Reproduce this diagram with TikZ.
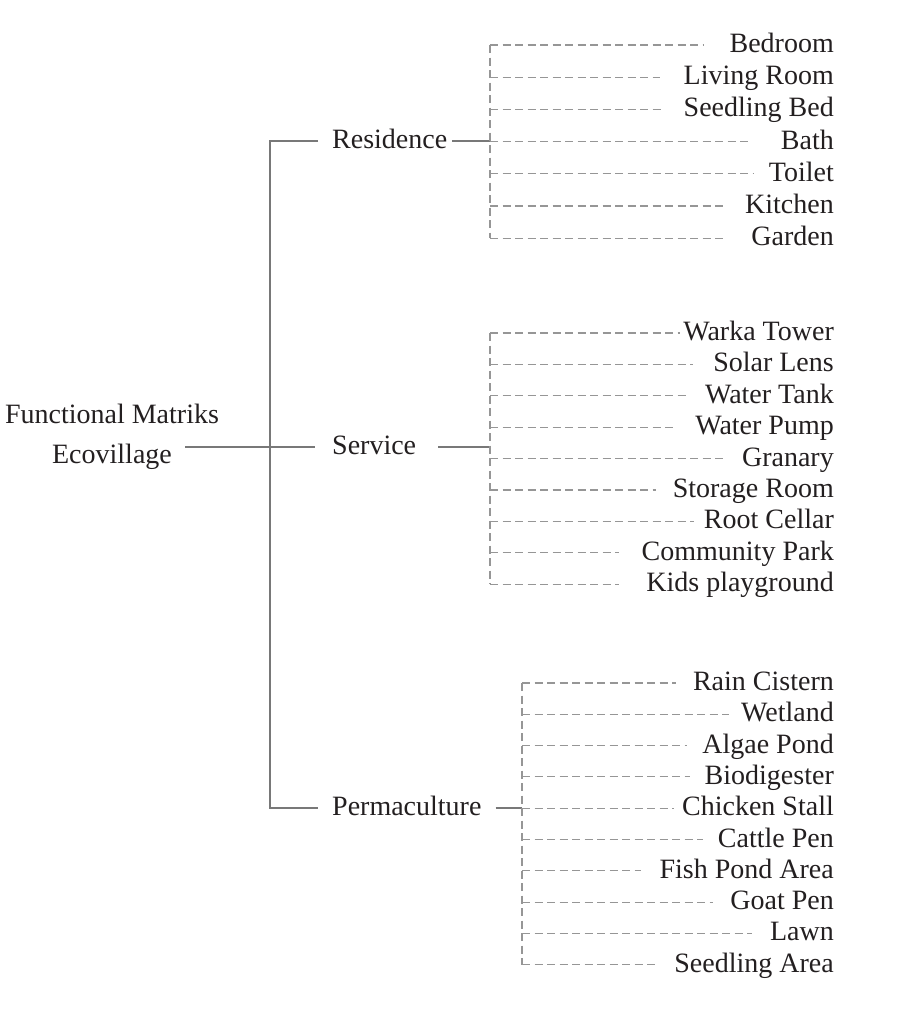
\documentclass[tikz,border=0pt]{standalone}
\usepackage{fontspec}
\setmainfont{Liberation Serif}
\definecolor{ink}{RGB}{35,31,32}
\definecolor{wire}{RGB}{120,120,120}
\definecolor{dashgray}{RGB}{150,150,150}
\tikzset{
  lbl/.style={inner sep=0pt, text height=19pt, text depth=4pt, text=ink,
    font=\fontsize{28}{34}\selectfont},
  leaf/.style={lbl, anchor=east},
  trunk/.style={draw=wire, line width=1.2pt},
  twig/.style={draw=dashgray, line width=1.1pt, dash pattern=on 8pt off 4.5pt},
}
\begin{document}
\begin{tikzpicture}[x=1pt, y=-1pt]
  \useasboundingbox (0,0) rectangle (922,1018);
  \node[lbl] (fm) at (112,416) {Functional Matriks};
  \node[lbl] (eco) at (112,456) {Ecovillage};
  \node[lbl, anchor=west] (res) at (332,141) {Residence};
  \node[lbl, anchor=west] (serv) at (332,447) {Service};
  \node[lbl, anchor=west] (perm) at (332,808) {Permaculture};
  \coordinate (rx) at (490,141);
  \coordinate (sx) at (490,447);
  \coordinate (px) at (522,808);
  \draw[trunk] ([xshift=-14pt]res.west) -| ([xshift=-62pt]perm.west) -- ([xshift=-14pt]perm.west);
  \draw[trunk] ([xshift=13pt]eco.east |- serv.west) -- ([xshift=-17pt]serv.west);
  \draw[trunk] ([xshift=5pt]res.east) -- (rx);
  \draw[trunk] ([xshift=22pt]serv.east) -- (sx);
  \draw[trunk] ([xshift=14pt]perm.east) -- (px);
  % residence
  \foreach \i/\txt/\g in {0/Bedroom/25, 1/Living Room/23, 2/Seedling Bed/23,
      3/Bath/29, 4/Toilet/15, 5/Kitchen/19, 6/Garden/25} {
    \node[leaf] (r\i) at (834,{45+32.2*\i}) {\txt};
    \draw[twig] (r\i.west -| rx) -- ([xshift=-\g pt]r\i.west);
  }
  \draw[twig] (r0.west -| rx) -- (r6.west -| rx);
  % service
  \foreach \i/\txt/\g in {0/Warka Tower/3, 1/Solar Lens/20, 2/Water Tank/17,
      3/Water Pump/18, 4/Granary/17, 5/Storage Room/17, 6/Root Cellar/10,
      7/Community Park/22, 8/Kids playground/27} {
    \node[leaf] (s\i) at (834,{333+31.4*\i}) {\txt};
    \draw[twig] (s\i.west -| sx) -- ([xshift=-\g pt]s\i.west);
  }
  \draw[twig] (s0.west -| sx) -- (s8.west -| sx);
  % permaculture
  \foreach \i/\txt/\g in {0/Rain Cistern/17, 1/Wetland/12, 2/Algae Pond/15,
      3/Biodigester/15, 4/Chicken Stall/8, 5/Cattle Pen/15, 6/Fish Pond Area/18,
      7/Goat Pen/17, 8/Lawn/18, 9/Seedling Area/15} {
    \node[leaf] (p\i) at (834,{683+31.3*\i}) {\txt};
    \draw[twig] (p\i.west -| px) -- ([xshift=-\g pt]p\i.west);
  }
  \draw[twig] (p0.west -| px) -- (p9.west -| px);
\end{tikzpicture}
\end{document}
